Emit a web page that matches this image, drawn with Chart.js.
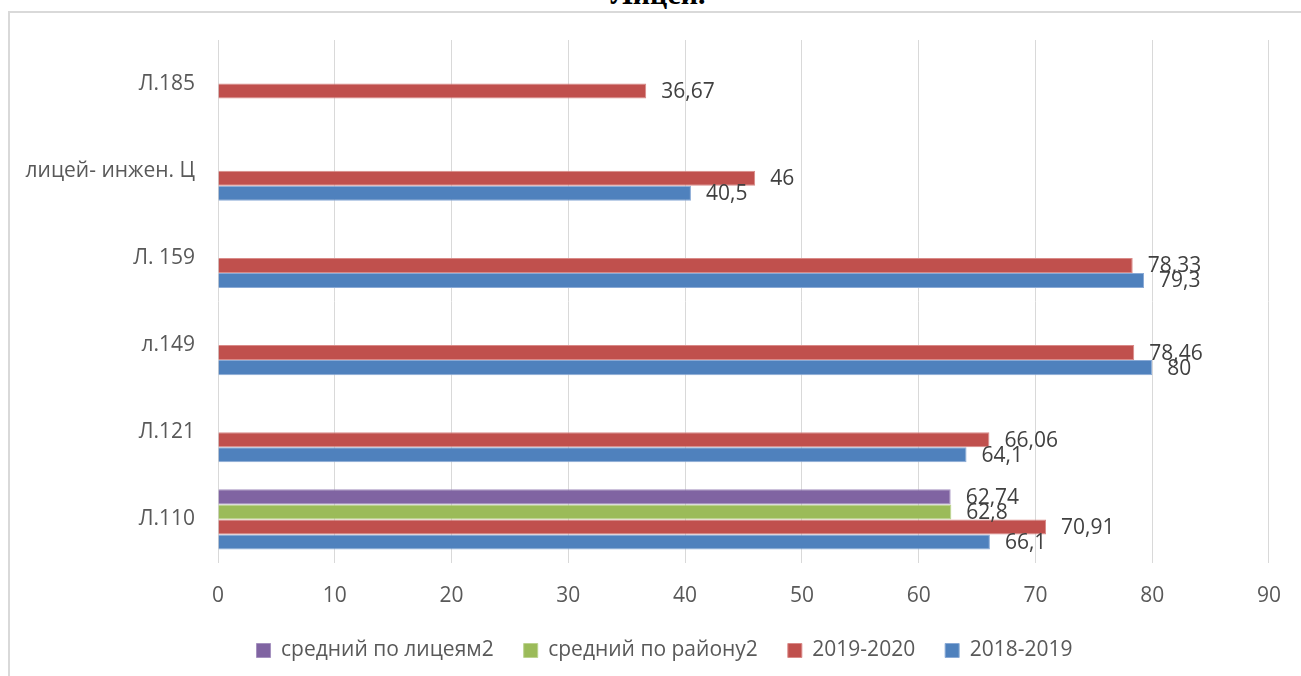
<!DOCTYPE html>
<html>
<head>
<meta charset="utf-8">
<script src="https://cdn.jsdelivr.net/npm/chart.js@4"></script>
<style>
  html, body { margin: 0; padding: 0; background: #fff; overflow: hidden; }
  #wrap { position: relative; width: 1301px; height: 676px; }
  #frame { position: absolute; left: 8px; top: 11px; right: -10px; bottom: -10px;
           border-left: 2px solid #d9d9d9; border-top: 2px solid #d9d9d9; }
  #title { position: absolute; top: -21px; left: 558px; width: 200px; text-align: center;
           font: bold 30px "Liberation Serif", serif; line-height: 30px; color: #000; }
  canvas { position: absolute; left: 0; top: 0; }
</style>
</head>
<body>
<div id="wrap">
  <div id="frame"></div>
  <div id="title">Лицеи.</div>
  <canvas id="lyceum_chart" width="1301" height="676"></canvas>
</div>
<script>
const categories = ["Л.185", "лицей- инжен. Ц", "Л. 159", "л.149", "Л.121", "Л.110"];
const lyceumAvg = [null, null, null, null, null, 62.74];
const districtAvg = [null, null, null, null, null, 62.8];
const year2019 = [36.67, 46, 78.33, 78.46, 66.06, 70.91];
const year2018 = [null, 40.5, 79.3, 80, 64.1, 66.1];
const xTicks = [0, 10, 20, 30, 40, 50, 60, 70, 80, 90];

const fontFamily = '"Open Sans", sans-serif';

// values written just past the end of each bar
const barLabels = {
  id: "barLabels",
  afterDatasetsDraw(chart) {
    const ctx = chart.ctx;
    ctx.save();
    ctx.font = "21px " + fontFamily;
    ctx.fillStyle = "#404040";
    ctx.textAlign = "left";
    ctx.textBaseline = "middle";
    chart.data.datasets.forEach(function (ds, i) {
      const meta = chart.getDatasetMeta(i);
      meta.data.forEach(function (bar, j) {
        const v = ds.data[j];
        if (v === null || v === undefined) return;
        ctx.fillText(String(v).replace(".", ","), bar.x + 15, bar.y + 1);
      });
    });
    ctx.restore();
  }
};

// the legend sits a little right of the canvas centre
const legendShift = {
  id: "legendShift",
  afterLayout(chart) {
    chart.legend.left += 30;
    chart.legend.right += 30;
  }
};

function makeSet(label, data, color, edge) {
  return {
    label: label,
    data: data,
    backgroundColor: color,
    borderColor: edge,
    borderWidth: 1,
    barPercentage: 1,
    categoryPercentage: 0.69
  };
}

document.addEventListener("DOMContentLoaded", function () {
  new Chart("lyceum_chart", {
    type: "bar",
    data: {
      labels: categories,
      datasets: [
        makeSet("средний по лицеям2", lyceumAvg, "#8064A2", "#a592bf"),
        makeSet("средний по району2", districtAvg, "#9BBB59", "#bcd38f"),
        makeSet("2019-2020", year2019, "#C0504D", "#d98a88"),
        makeSet("2018-2019", year2018, "#4F81BD", "#8aaad6")
      ]
    },
    options: {
      indexAxis: "y",
      responsive: false,
      animation: false,
      layout: { padding: { left: 0, right: 32, top: 40, bottom: 5 } },
      scales: {
        x: {
          min: 0,
          max: 90,
          afterBuildTicks(scale) {
            scale.ticks = xTicks.map(function (v) { return { value: v }; });
          },
          afterFit(scale) { scale.height = 47; },
          grid: { color: "#d9d9d9", lineWidth: 1, drawTicks: false },
          border: { display: false },
          ticks: { padding: 20, color: "#595959", font: { family: fontFamily, size: 21 } }
        },
        y: {
          afterFit(scale) { scale.width = 218; },
          grid: { display: false, drawTicks: false },
          border: { display: false },
          ticks: { padding: 23, color: "#595959", font: { family: fontFamily, size: 21 } }
        }
      },
      plugins: {
        legend: {
          position: "bottom",
          labels: {
            boxWidth: 14,
            boxHeight: 14,
            padding: 30,
            color: "#595959",
            font: { family: fontFamily, size: 21 }
          }
        },
        tooltip: { enabled: false }
      }
    },
    plugins: [barLabels, legendShift]
  });
});
</script>
</body>
</html>
